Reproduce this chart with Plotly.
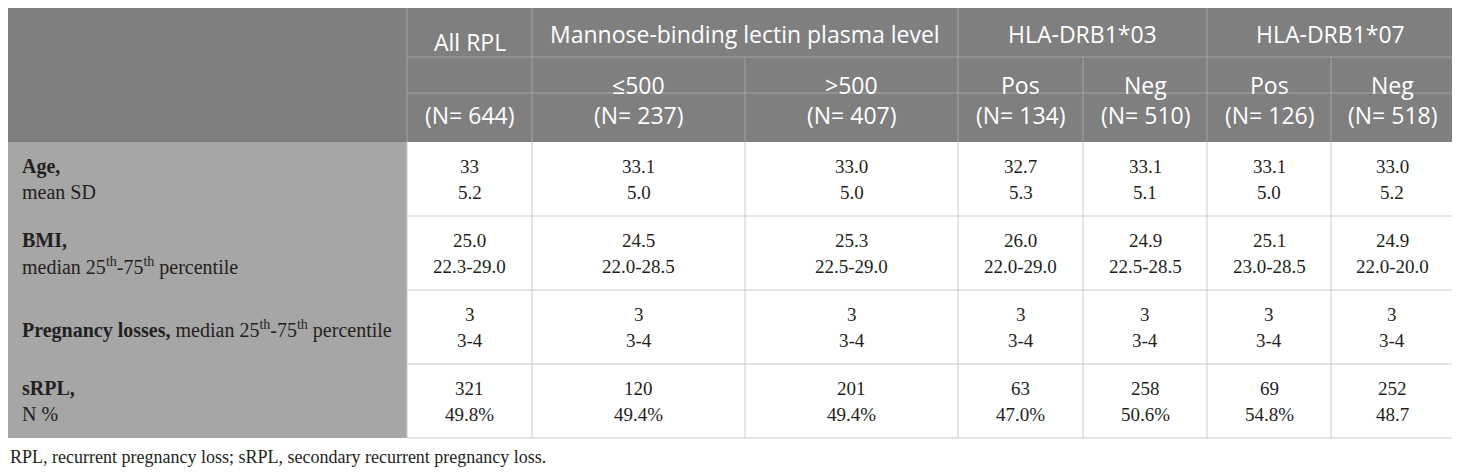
import plotly.graph_objs as go

# table content
groups = ['All RPL', 'Mannose-binding lectin plasma level', 'HLA-DRB1*03', 'HLA-DRB1*07']
group_span = [1, 2, 2, 2]
subgroups = ['', '≤500', '>500', 'Pos', 'Neg', 'Pos', 'Neg']
n_counts = [644, 237, 407, 134, 510, 126, 518]

row_heads = ['Age,', 'BMI,', 'Pregnancy losses,', 'sRPL,']
row_subs = ['mean SD', 'median 25<sup>th</sup>-75<sup>th</sup> percentile',
            'median 25<sup>th</sup>-75<sup>th</sup> percentile', 'N %']
row_inline = [False, False, True, False]

age_mean = ['33', '33.1', '33.0', '32.7', '33.1', '33.1', '33.0']
age_sd = ['5.2', '5.0', '5.0', '5.3', '5.1', '5.0', '5.2']
bmi_median = ['25.0', '24.5', '25.3', '26.0', '24.9', '25.1', '24.9']
bmi_range = ['22.3-29.0', '22.0-28.5', '22.5-29.0', '22.0-29.0', '22.5-28.5', '23.0-28.5', '22.0-20.0']
loss_median = ['3', '3', '3', '3', '3', '3', '3']
loss_range = ['3-4', '3-4', '3-4', '3-4', '3-4', '3-4', '3-4']
srpl_n = ['321', '120', '201', '63', '258', '69', '252']
srpl_pct = ['49.8%', '49.4%', '49.4%', '47.0%', '50.6%', '54.8%', '48.7']

footnote = 'RPL, recurrent pregnancy loss; sRPL, secondary recurrent pregnancy loss.'

body = [(age_mean, age_sd), (bmi_median, bmi_range), (loss_median, loss_range), (srpl_n, srpl_pct)]

# layout grid, in page pixels (the page body has an 8px margin)
PAD = 8
col_edges = [8, 407, 532, 745, 958, 1083, 1207, 1331, 1453]
row_edges = [8, 57, 93, 142, 216, 290, 364, 438]

HEAD_BG = '#7f7f7f'
FIRST_BG = '#a6a6a6'
HEAD_LINE = '#a3a3a3'
BODY_LINE = '#cbcbcb'
TXT = '#231f20'
HEAD_FONT = dict(family='Open Sans', size=23, color='white')
LABEL_FONT = dict(family='Liberation Serif', size=20, color=TXT)
BODY_FONT = dict(family='Liberation Serif', size=19, color=TXT)

shapes = []
annotations = []


def rect(x0, x1, y0, y1, color):
    shapes.append(dict(type='rect', xref='x', yref='y', x0=x0, x1=x1, y0=y0, y1=y1,
                       fillcolor=color, line=dict(width=0), layer='below'))


def line(x0, x1, y0, y1, color):
    shapes.append(dict(type='line', xref='x', yref='y', x0=x0, x1=x1, y0=y0, y1=y1,
                       line=dict(color=color, width=1)))


def text(x, y, s, font, anchor='center'):
    annotations.append(dict(x=x, y=y, xref='x', yref='y', text=s, showarrow=False,
                            xanchor=anchor, yanchor='middle', font=font))


# backgrounds
rect(col_edges[0], col_edges[-1], row_edges[0], row_edges[3], HEAD_BG)
rect(col_edges[0], col_edges[1], row_edges[3], row_edges[-1], FIRST_BG)

# header lines
line(col_edges[1], col_edges[1], row_edges[0], row_edges[3], HEAD_LINE)
line(col_edges[1], col_edges[-1], row_edges[1], row_edges[1], HEAD_LINE)
line(col_edges[1], col_edges[-1], row_edges[2], row_edges[2], HEAD_LINE)
ci = 1
for span in group_span:
    ci += span
    if ci < len(col_edges) - 1:
        line(col_edges[ci], col_edges[ci], row_edges[0], row_edges[1], HEAD_LINE)
for c in range(2, len(col_edges) - 1):
    line(col_edges[c], col_edges[c], row_edges[1], row_edges[3], HEAD_LINE)

# body lines
for c in range(1, len(col_edges)):
    line(col_edges[c], col_edges[c], row_edges[3], row_edges[-1], BODY_LINE)
for r in range(4, len(row_edges)):
    line(col_edges[1], col_edges[-1], row_edges[r], row_edges[r], BODY_LINE)

# header text
ci = 1
for g, span in zip(groups, group_span):
    xc = (col_edges[ci] + col_edges[ci + span]) / 2
    yc = 42 if span == 1 else 34
    text(xc, yc, g, HEAD_FONT)
    ci += span
for i, (s, n) in enumerate(zip(subgroups, n_counts)):
    xc = (col_edges[i + 1] + col_edges[i + 2]) / 2
    if s:
        text(xc, 85, s, HEAD_FONT)
    text(xc, 115, '(N= %d)' % n, HEAD_FONT)

# body text
for r, (head, sub, inline, (top, bottom)) in enumerate(zip(row_heads, row_subs, row_inline, body)):
    yc = (row_edges[r + 3] + row_edges[r + 4]) / 2
    if inline:
        text(col_edges[0] + 12, yc + 2, '<b>%s</b> %s' % (head, sub), LABEL_FONT, 'left')
    else:
        text(col_edges[0] + 12, yc - 13, '<b>%s</b>' % head, LABEL_FONT, 'left')
        text(col_edges[0] + 12, yc + 13, sub, LABEL_FONT, 'left')
    for i in range(len(top)):
        xc = (col_edges[i + 1] + col_edges[i + 2]) / 2
        text(xc, yc - 13, top[i], BODY_FONT)
        text(xc, yc + 13, bottom[i], BODY_FONT)

text(col_edges[0], 457, footnote, dict(family='Liberation Serif', size=18, color=TXT), 'left')

fig = go.Figure()
fig.update_layout(
    width=1460 - PAD, height=474 - PAD,
    margin=dict(l=0, r=0, t=0, b=0),
    paper_bgcolor='white', plot_bgcolor='white',
    xaxis=dict(range=[PAD, 1460], visible=False, fixedrange=True),
    yaxis=dict(range=[474, PAD], visible=False, fixedrange=True),
    shapes=shapes, annotations=annotations,
    showlegend=False
)

fig.write_html('out.html')
